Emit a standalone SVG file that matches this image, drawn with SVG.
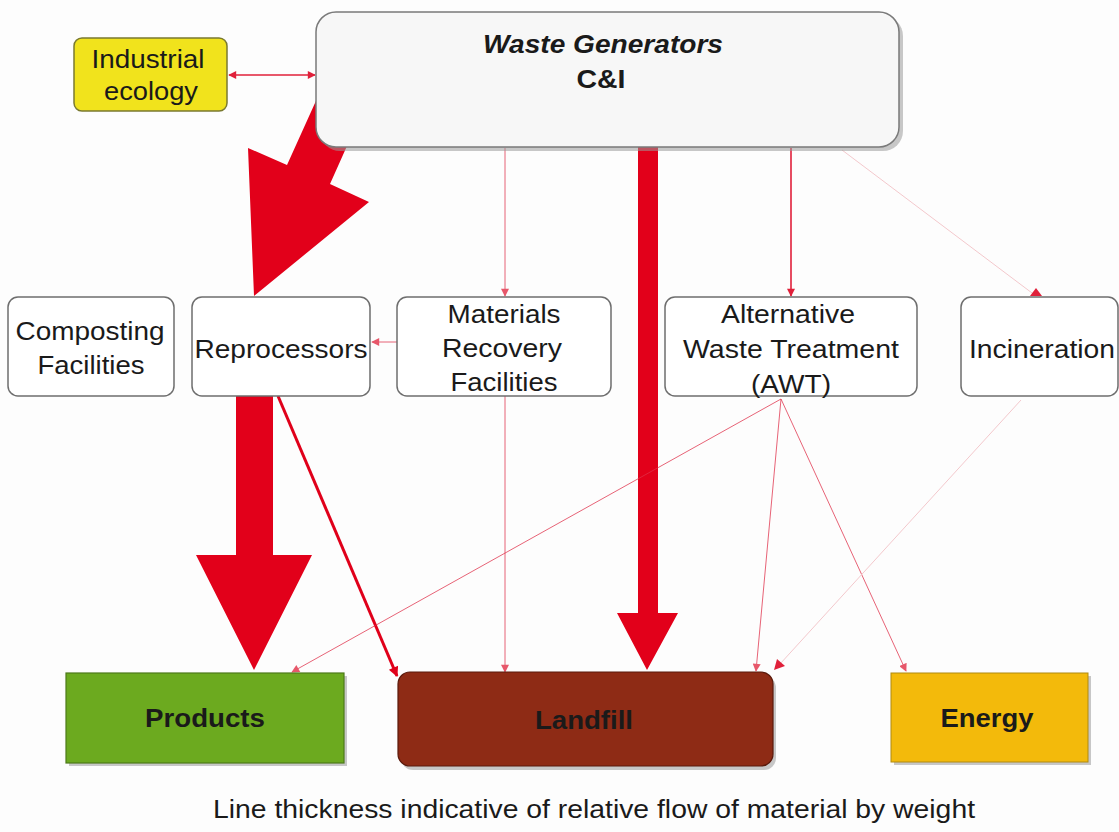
<svg xmlns="http://www.w3.org/2000/svg" width="1119" height="832" viewBox="0 0 1119 832">
<style>
text{font-family:"Liberation Sans",Arial,sans-serif;fill:#1a1a1a;font-size:25px;text-anchor:middle}
.b{font-weight:bold}
.bi{font-weight:bold;font-style:italic}
.box{fill:#fff;stroke:#6e6e6e;stroke-width:1.5}
.thin{stroke:#e0304a;stroke-width:1;fill:none;opacity:0.75}
.med{stroke:#e0203a;stroke-width:1.6;fill:none}
.faint{stroke:#f3c8cc;stroke-width:1;fill:none}
.big{fill:#e2001a}
.shadow{fill:#9a9a9a;opacity:0.55}
</style>
<defs>
<marker id="ah" viewBox="0 0 10 10" refX="9" refY="5" markerWidth="9" markerHeight="8" markerUnits="userSpaceOnUse" orient="auto-start-reverse">
<path d="M0,0 L10,5 L0,10 z" fill="#e0203a"/>
</marker>
<marker id="ahL" viewBox="0 0 10 10" refX="9" refY="5" markerWidth="13" markerHeight="10" markerUnits="userSpaceOnUse" orient="auto">
<path d="M0,0 L10,5 L0,10 z" fill="#e0001a"/>
</marker>
</defs>
<rect width="1119" height="832" fill="#fdfdfd"/>

<g id="connectors">
<polygon class="big" points="254,296 369,202 330,184 372,90 329,72 287,165 248,148"/>
<polygon class="big" points="638,140 658,140 658,613 678,613 647,670 617,613 638,613"/>
<polygon class="big" points="236,396 273,396 273,555 312,555 254,670 196,555 236,555"/>
<line class="med" x1="229" y1="75" x2="315" y2="75" marker-start="url(#ah)" marker-end="url(#ah)"/>
<line class="thin" x1="505" y1="148" x2="505" y2="296" marker-end="url(#ah)"/>
<line class="med" x1="791" y1="148" x2="791" y2="296" marker-end="url(#ah)"/>
<line class="faint" x1="842" y1="150" x2="1036" y2="296"/>
<path d="M1030,296 L1042,296 L1036,288 z" fill="#e0203a"/>
<line class="thin" x1="397" y1="342" x2="372" y2="342" marker-end="url(#ah)"/>
<line class="thin" x1="505" y1="396" x2="505" y2="672" marker-end="url(#ah)"/>
<line stroke="#e0001a" stroke-width="3" x1="278" y1="396" x2="397" y2="676" marker-end="url(#ahL)"/>
<line class="thin" x1="781" y1="399" x2="292" y2="672" marker-end="url(#ah)"/>
<line class="thin" x1="781" y1="399" x2="756" y2="671" marker-end="url(#ah)"/>
<line class="thin" x1="781" y1="399" x2="906" y2="671" marker-end="url(#ah)"/>
<line class="faint" x1="1021" y1="400" x2="780" y2="664"/>
<path d="M774,670 L777,659 L785,666 z" fill="#e0203a"/>
</g>

<g id="waste-generators">
<rect class="shadow" x="320" y="16" width="583" height="135" rx="20"/>
<rect x="316" y="12" width="583" height="135" rx="20" fill="#f7f7f7" stroke="#7a7a7a" stroke-width="1.5"/>
<text class="bi" x="603" y="53" textLength="240" lengthAdjust="spacingAndGlyphs">Waste Generators</text>
<text class="b" x="601" y="88" textLength="49" lengthAdjust="spacingAndGlyphs">C&amp;I</text>
</g>

<g id="industrial-ecology">
<rect x="74" y="38" width="153" height="73" rx="8" fill="#f1e31c" stroke="#7a7a30" stroke-width="1.5"/>
<text x="148" y="68" textLength="113" lengthAdjust="spacingAndGlyphs">Industrial</text>
<text x="151" y="100" textLength="94" lengthAdjust="spacingAndGlyphs">ecology</text>
</g>

<g id="composting">
<rect class="box" x="8" y="297" width="166" height="99" rx="10"/>
<text x="90" y="340" textLength="149" lengthAdjust="spacingAndGlyphs">Composting</text>
<text x="91" y="374" textLength="107" lengthAdjust="spacingAndGlyphs">Facilities</text>
</g>

<g id="reprocessors">
<rect class="box" x="192" y="297" width="178" height="99" rx="10"/>
<text x="281" y="358" textLength="173" lengthAdjust="spacingAndGlyphs">Reprocessors</text>
</g>

<g id="mrf">
<rect class="box" x="397" y="297" width="214" height="99" rx="10"/>
<text x="504" y="323" textLength="113" lengthAdjust="spacingAndGlyphs">Materials</text>
<text x="502" y="357" textLength="120" lengthAdjust="spacingAndGlyphs">Recovery</text>
<text x="504" y="391" textLength="107" lengthAdjust="spacingAndGlyphs">Facilities</text>
</g>

<g id="awt">
<rect class="box" x="665" y="297" width="252" height="99" rx="10"/>
<text x="788" y="323" textLength="134" lengthAdjust="spacingAndGlyphs">Alternative</text>
<text x="791" y="358" textLength="216" lengthAdjust="spacingAndGlyphs">Waste Treatment</text>
<text x="791" y="393" textLength="80" lengthAdjust="spacingAndGlyphs">(AWT)</text>
</g>

<g id="incineration">
<rect class="box" x="961" y="297" width="157" height="99" rx="10"/>
<text x="1042" y="358" textLength="146" lengthAdjust="spacingAndGlyphs">Incineration</text>
</g>

<g id="products">
<rect class="shadow" x="69" y="676" width="278" height="90"/>
<rect x="66" y="673" width="278" height="90" fill="#6caa1f" stroke="#4d7a1a" stroke-width="1.2"/>
<text class="b" x="205" y="727" textLength="120" lengthAdjust="spacingAndGlyphs">Products</text>
</g>

<g id="landfill">
<rect class="shadow" x="401" y="676" width="375" height="94" rx="12"/>
<rect x="398" y="672" width="375" height="94" rx="12" fill="#8e2b15" stroke="#5a1a0c" stroke-width="1.2"/>
<text class="b" x="584" y="729" textLength="98" lengthAdjust="spacingAndGlyphs">Landfill</text>
</g>

<g id="energy">
<rect class="shadow" x="894" y="676" width="197" height="89"/>
<rect x="891" y="673" width="197" height="89" fill="#f3ba0b" stroke="#b08a10" stroke-width="1"/>
<text class="b" x="987" y="727" textLength="93" lengthAdjust="spacingAndGlyphs">Energy</text>
</g>

<text x="594" y="818" style="font-size:25px" textLength="762" lengthAdjust="spacingAndGlyphs">Line thickness indicative of relative flow of material by weight</text>
</svg>
